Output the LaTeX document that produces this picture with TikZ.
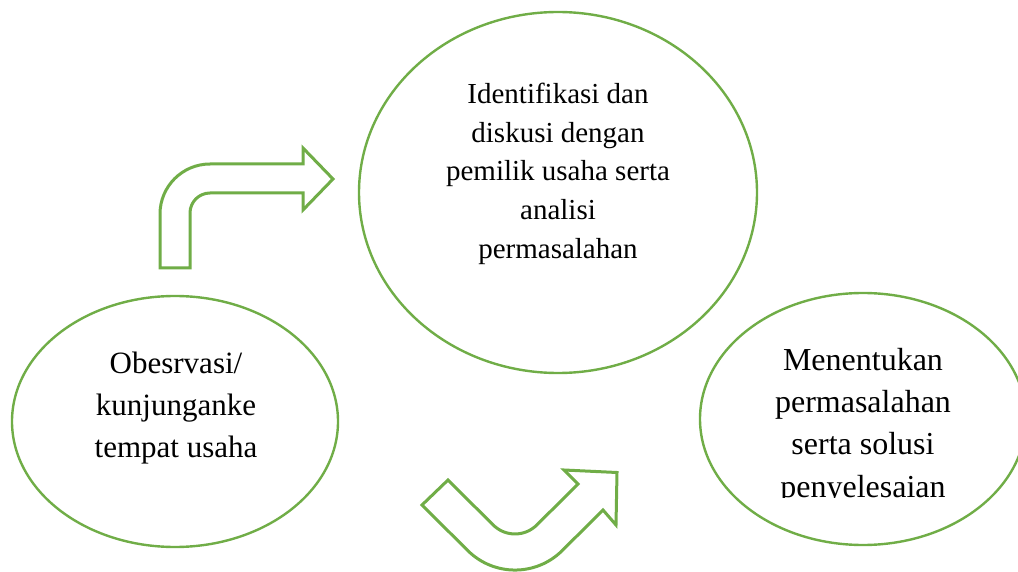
\documentclass[tikz,border=0pt]{standalone}
\usepackage{fontspec}
\setmainfont{Liberation Serif}
\usetikzlibrary{shapes.geometric}
\definecolor{leaf}{RGB}{112,173,71}
\begin{document}
\begin{tikzpicture}[x=1pt,y=-1pt,
  bubble/.style={ellipse, draw=leaf, line width=2.4pt, inner sep=0pt},
  caption/.style={align=center, inner sep=0pt, text=black},
  bent/.style={draw=leaf, line width=3pt, line join=miter, fill=white}]
\useasboundingbox (0,0) rectangle (1018,572);

% ellipses
\node[bubble, minimum width=398pt, minimum height=361pt] (top) at (558,192.5) {};
\node[bubble, minimum width=326pt, minimum height=251pt] (left) at (175,421.5) {};
\node[bubble, minimum width=326pt, minimum height=252pt] (right) at (863,419) {};

% texts
\node[caption, font=\fontsize{29}{38.8}\selectfont] (toptext) at (558,173.8)
  {Identifikasi dan\\diskusi dengan\\pemilik usaha serta\\analisi\\permasalahan};
\node[caption, font=\fontsize{31}{42}\selectfont] (lefttext) at (176,407.8)
  {Obesrvasi/\\kunjunganke\\tempat usaha};
\begin{scope}
  \clip (690,300) rectangle (1018,497.5);
  \node[caption, font=\fontsize{32}{42.3}\selectfont] (righttext) at (863,426)
    {Menentukan\\permasalahan\\serta solusi\\penyelesaian};
\end{scope}

% bent arrow up-right
\draw[bent] (160,268) -- (160,214) .. controls (160,186.4) and (182.4,164) .. (210,164)
  -- (303,164) -- (303,148) -- (333,179) -- (303,210) -- (303,193) -- (210,193)
  .. controls (199,193) and (190,202) .. (190,213) -- (190,268) -- cycle;

% U-turn arrow
\draw[bent] (448,480) -- (493.1,524.9) .. controls (505.2,537.0) and (524.8,537.0) .. (536.9,524.9)
  -- (578,484) -- (564,470) -- (617,472.5) -- (616,525) -- (603,510)
  -- (562.4,550.4) .. controls (536.2,576.6) and (493.8,576.6) .. (467.6,550.4)
  -- (422,505) -- cycle;
\end{tikzpicture}
\end{document}
